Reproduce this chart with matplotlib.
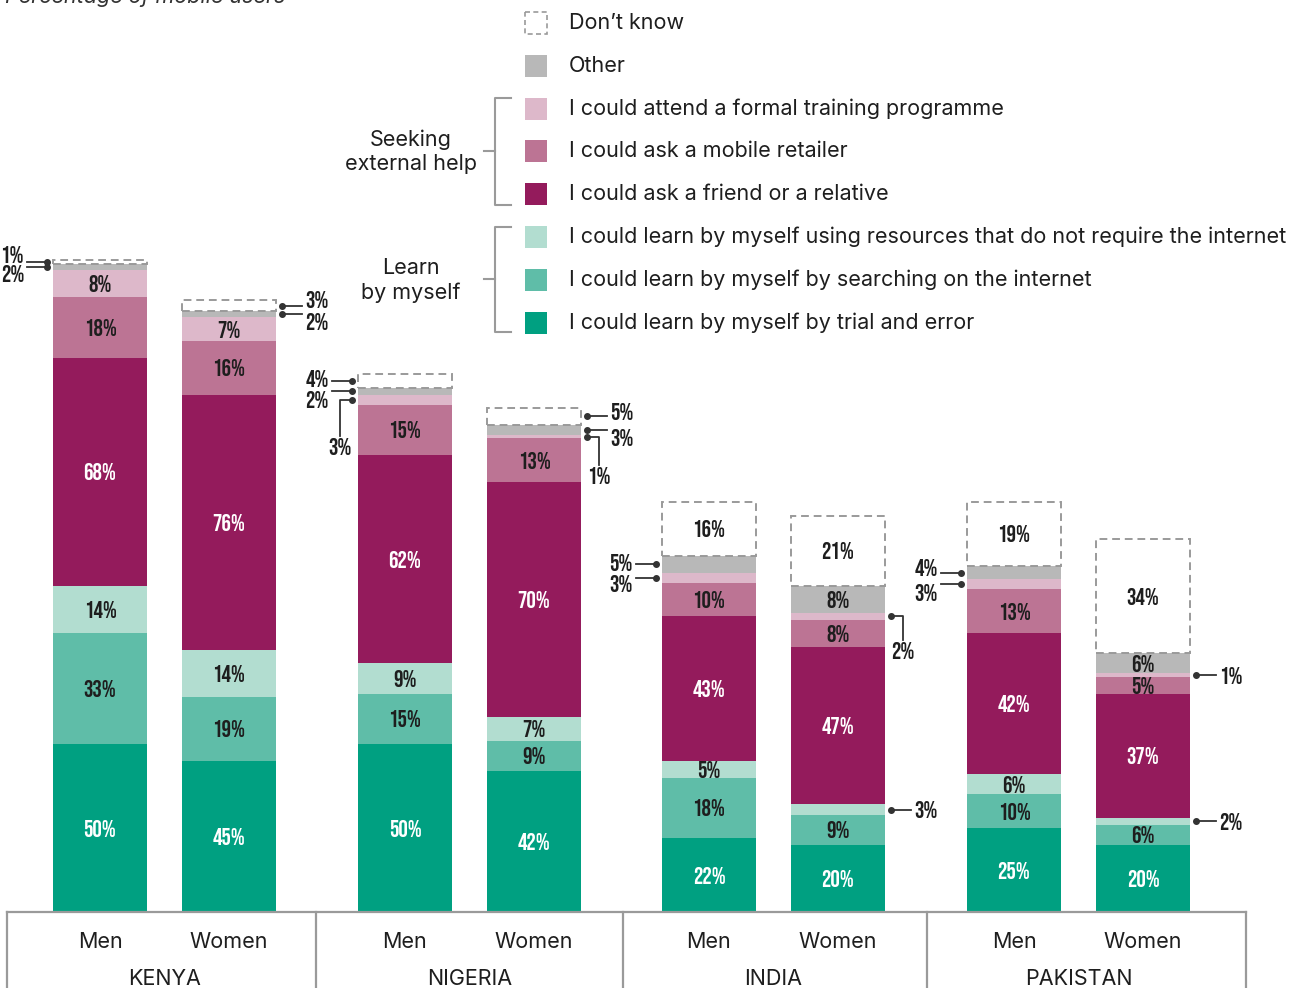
import matplotlib
matplotlib.use("Agg")
import matplotlib.pyplot as plt
from matplotlib.patches import Rectangle
from matplotlib import font_manager as fm

# ---------------- data ----------------
countries = ["KENYA", "NIGERIA", "INDIA", "PAKISTAN"]
genders = ["Men", "Women"]
series_names = [
    "I could learn by myself by trial and error",
    "I could learn by myself by searching on the internet",
    "I could learn by myself using resources that do not require the internet",
    "I could ask a friend or a relative",
    "I could ask a mobile retailer",
    "I could attend a formal training programme",
    "Other",
    "Don\u2019t know",
]
# order of bars: Kenya M, Kenya W, Nigeria M, Nigeria W, India M, India W, Pakistan M, Pakistan W
trial = [50, 45, 50, 42, 22, 20, 25, 20]
internet = [33, 19, 15, 9, 18, 9, 10, 6]
no_internet = [14, 14, 9, 7, 5, 3, 6, 2]
friend = [68, 76, 62, 70, 43, 47, 42, 37]
retailer = [18, 16, 15, 13, 10, 8, 13, 5]
training = [8, 7, 3, 1, 3, 2, 3, 1]
other = [2, 2, 2, 3, 5, 8, 4, 6]
dont_know = [1, 3, 4, 5, 16, 21, 19, 34]
values = [trial, internet, no_internet, friend, retailer, training, other, dont_know]

# outside labels: (bar, series, side, label dy px, elbow drop px)
outside = [
    (0, 7, "L", -7, 0), (0, 6, "L", 7, 0),
    (1, 7, "R", -6, 0), (1, 6, "R", 8, 0),
    (2, 7, "L", -3, 0), (2, 6, "L", 8, 0), (2, 5, "L", 0, 36),
    (3, 7, "R", -5, 0), (3, 6, "R", 8, 0), (3, 5, "R", 0, 28),
    (4, 6, "L", -2, 0), (4, 5, "L", 6, 0),
    (5, 5, "R", 0, 24), (5, 2, "R", 0, 0),
    (6, 6, "L", -5, 0), (6, 5, "L", 8, 0),
    (7, 5, "R", 0, 0), (7, 2, "R", 0, 0),
]


# ---------------- fonts ----------------
def _w(f):
    try:
        return int(f.weight)
    except Exception:
        return {"normal": 400, "regular": 400, "book": 400}.get(str(f.weight), 0)


def pick(cands, style="normal", weights=(400,)):
    for c in cands:
        for f in fm.fontManager.ttflist:
            if f.name == c and f.style == style and _w(f) in weights and "[" not in f.fname:
                return c
    return "DejaVu Sans"


LAB = pick(["Montserrat", "Raleway", "Nunito Sans", "Inter", "Lato", "Open Sans"])
LAB_IT = pick([LAB, "Lato", "Open Sans"], style="italic")
NUM = pick(["League Gothic", "Bebas Neue", "Oswald", "Barlow Condensed"])

colors = ["#00A081", "#5FBDA8", "#B2DDD0", "#941B5C", "#BC7494", "#DDB8CA", "#B8B8B8", "white"]
txt_colors = ["white", "#1e1e1e", "#1e1e1e", "white", "#1e1e1e", "#1e1e1e", "#1e1e1e", "#1e1e1e"]
NUM_FONT = [NUM, "DejaVu Sans"]
LAB_FONT = [LAB, "DejaVu Sans"]
NUM_SIZE = 17
GREY = "#9a9a9a"
DARK = "#333333"
TXT = "#1e1e1e"

W, H = 1306, 988
PX = 3.36      # pixels per percentage point
BASE = 912     # pixel row (from top) of the 0 % line

fig = plt.figure(figsize=(W / 100, H / 100), dpi=100)
ax = fig.add_axes([0, 0, 1, 1])
ax.set_xlim(0, W)
ax.set_ylim(-(H - BASE) / PX, BASE / PX)
ax.axis("off")

ov = fig.add_axes([0, 0, 1, 1], zorder=3)
ov.set_xlim(0, W)
ov.set_ylim(H, 0)
ov.axis("off")
ov.patch.set_alpha(0)

# size the label font so the longest legend entry spans ~724 px as in the source
renderer = fig.canvas.get_renderer()
probe = ov.text(0, 0, series_names[2], fontsize=13, family=LAB_FONT)
wpx = probe.get_window_extent(renderer).width
probe.remove()
LAB_SIZE = max(10.5, min(15.5, 13 * 724 / wpx))

group_left = [100, 405, 709, 1014]
pair_gap = 129
bar_w = 94
xs = []
for g in group_left:
    xs += [g, g + pair_gap]

# ---------------- bars ----------------
bottoms = [0.0] * len(xs)
seg_bottoms = []
for i, vals in enumerate(values):
    seg_bottoms.append(list(bottoms))
    if i == len(values) - 1:
        ax.bar(xs, vals, bottom=bottoms, width=bar_w, color="white",
               edgecolor=GREY, linewidth=1.4, linestyle=(0, (4, 2.5)), zorder=2)
    else:
        ax.bar(xs, vals, bottom=bottoms, width=bar_w, color=colors[i],
               edgecolor="none", linewidth=0, zorder=2)
    bottoms = [b + v for b, v in zip(bottoms, vals)]

outside_set = {(b, s) for b, s, *_ in outside}
for i, vals in enumerate(values):
    for b, v in enumerate(vals):
        if (b, i) in outside_set:
            continue
        ax.text(xs[b], seg_bottoms[i][b] + v / 2, f"{v}%", ha="center", va="center",
                color=txt_colors[i], fontsize=NUM_SIZE, family=NUM_FONT, zorder=4)

# outside annotations (drawn in pixel overlay)
for b, s, side, dy, drop in outside:
    v = values[s][b]
    yc = seg_bottoms[s][b] + v / 2
    py = BASE - yc * PX
    sgn = -1 if side == "L" else 1
    edge = xs[b] + sgn * bar_w / 2
    x0 = edge + sgn * 6
    if drop == 0:
        x1 = x0 + sgn * 20
        ov.plot([x0, x1], [py, py], color=DARK, lw=1.3)
        ov.plot([x0], [py], "o", color=DARK, ms=4)
        ov.text(x1 + sgn * 3, py + dy, f"{v}%", ha="right" if side == "L" else "left",
                va="center", color=TXT, fontsize=NUM_SIZE, family=NUM_FONT)
    else:
        x1 = x0 + sgn * 12
        ov.plot([x0, x1, x1], [py, py, py + drop], color=DARK, lw=1.3)
        ov.plot([x0], [py], "o", color=DARK, ms=4)
        ov.text(x1, py + drop + 2, f"{v}%", ha="center", va="top",
                color=TXT, fontsize=NUM_SIZE, family=NUM_FONT)

# ---------------- bottom category table ----------------
ov.plot([7, 1246], [BASE, BASE], color=GREY, lw=1.6)
for xv in [7, 316, 623, 927, 1246]:
    ov.plot([xv, xv], [BASE, H + 5], color=GREY, lw=1.6)
for b, x in enumerate(xs):
    ov.text(x, 942, genders[b % 2], ha="center", va="center", fontsize=LAB_SIZE,
            family=LAB_FONT, color=TXT)
for c, g in enumerate(group_left):
    ov.text(g + pair_gap / 2, 979, countries[c], ha="center", va="center",
            fontsize=LAB_SIZE, family=LAB_FONT, color=TXT)

# ---------------- legend ----------------
leg_order = list(range(len(values)))[::-1]
row_y0, row_step = 23, 42.8
for k, i in enumerate(leg_order):
    y = row_y0 + k * row_step
    if i == len(values) - 1:
        ov.add_patch(Rectangle((525, y - 11), 22, 22, facecolor="white", edgecolor=GREY,
                               lw=1.2, linestyle=(0, (3, 2))))
    else:
        ov.add_patch(Rectangle((525, y - 11), 22, 22, facecolor=colors[i], edgecolor="none"))
    ov.text(569, y, series_names[i], ha="left", va="center", fontsize=LAB_SIZE,
            family=LAB_FONT, color=TXT)

# brackets
for (top, bot, t1, t2) in [(98, 205, "Seeking", "external help"),
                           (227, 332, "Learn", "by myself")]:
    mid = (top + bot) / 2
    ov.plot([511, 495, 495, 511], [top, top, bot, bot], color=GREY, lw=1.5)
    ov.plot([484, 495], [mid, mid], color=GREY, lw=1.5)
    ov.text(411, mid - 12, t1, ha="center", va="center", fontsize=LAB_SIZE,
            family=LAB_FONT, color=TXT)
    ov.text(411, mid + 13, t2, ha="center", va="center", fontsize=LAB_SIZE,
            family=LAB_FONT, color=TXT)

# title (partly cut at top edge as in the source)
ov.text(5, 3, "Percentage of mobile users", ha="left", va="baseline", fontsize=LAB_SIZE,
        style="italic", family=[LAB_IT, "DejaVu Sans"], color="#333333")

fig.savefig("out.png", dpi=100)
